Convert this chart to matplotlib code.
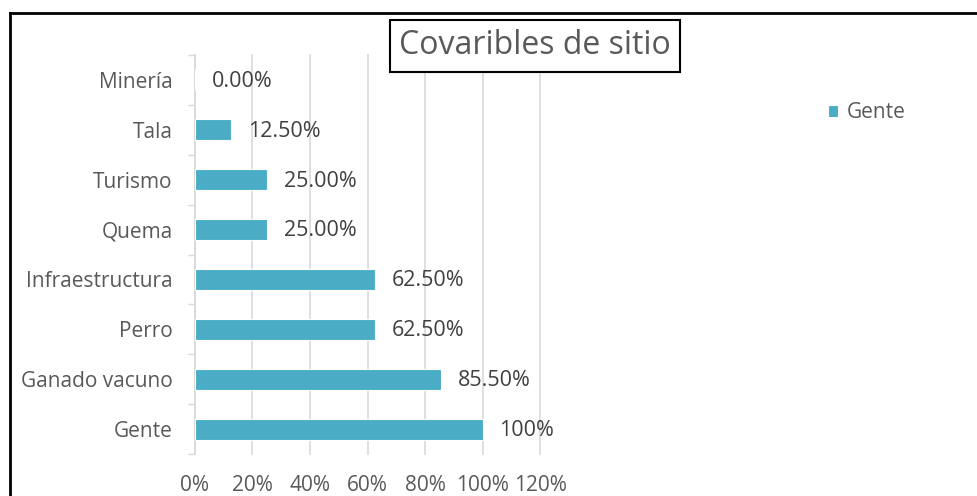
import matplotlib.pyplot as plt
from matplotlib.lines import Line2D
import numpy as np

plt.rcParams['font.family'] = ['Open Sans', 'DejaVu Sans']

# categories bottom -> top
categories = ['Gente', 'Ganado vacuno', 'Perro', 'Infraestructura', 'Quema', 'Turismo', 'Tala', 'Minería']
values = [100, 85.5, 62.5, 62.5, 25, 25, 12.5, 0]
value_labels = ['100%', '85.50%', '62.50%', '62.50%', '25.00%', '25.00%', '12.50%', '0.00%']
xticks = [0, 20, 40, 60, 80, 100, 120]

bar_color = '#4BACC6'
text_color = '#595959'
grid_color = '#D9D9D9'

fig = plt.figure(figsize=(9.78, 4.96), dpi=100)
ax = fig.add_axes([195 / 978, 1 - 454 / 496, 345 / 978, 399 / 496])

y = np.arange(len(categories))
ax.barh(y, values, height=0.42, color=bar_color, edgecolor='white', linewidth=0.8, label='Gente', zorder=3)

for yi, v, lab in zip(y, values, value_labels):
    ax.annotate(lab, (v, yi), xytext=(12, -1), textcoords='offset points',
                va='center', ha='left', fontsize=15.5, color='#404040', zorder=4)

ax.set_xlim(0, 120)
ax.set_ylim(-0.5, len(categories) - 0.5)
ax.set_xticks(xticks)
ax.set_xticklabels([f'{t}%' for t in xticks], fontsize=15, color=text_color)
ax.set_yticks(y)
ax.set_yticklabels(categories, fontsize=15, color=text_color)
ax.set_yticks(np.arange(-0.5, len(categories), 1), minor=True)
ax.tick_params(axis='y', which='major', length=0, pad=16)
ax.tick_params(axis='y', which='minor', length=5, color=grid_color, width=1)
ax.tick_params(axis='x', length=0, pad=15)

ax.grid(axis='x', color=grid_color, linewidth=1.2, zorder=0)
for gl in ax.get_xgridlines():
    gl.set_clip_on(False)
for s in ['top', 'right', 'bottom']:
    ax.spines[s].set_visible(False)
ax.spines['left'].set_color(grid_color)
ax.spines['left'].set_linewidth(1.2)

leg = fig.legend(loc='center left', bbox_to_anchor=(809 / 978, 1 - 113 / 496), frameon=False,
                 fontsize=15, handlelength=0.5, handleheight=0.5, handletextpad=0.4)
for t in leg.get_texts():
    t.set_color(text_color)

fig.text(535 / 978, 1 - 46 / 496, 'Covaribles de sitio', fontsize=23, color=text_color,
         ha='center', va='center',
         bbox=dict(boxstyle='square,pad=0.3', facecolor='white', edgecolor='black', linewidth=1.5))

# outer frame (left and top edges visible)
fig.add_artist(Line2D([10 / 978, 10 / 978], [0, 1 - 13 / 496], color='black', linewidth=2, transform=fig.transFigure))
fig.add_artist(Line2D([10 / 978, 1], [1 - 13 / 496, 1 - 13 / 496], color='black', linewidth=2, transform=fig.transFigure))

fig.savefig('out.png', dpi=100)
